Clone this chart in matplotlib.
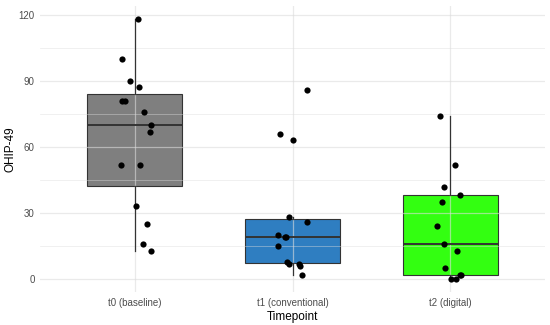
import numpy as np
import matplotlib
matplotlib.use("Agg")
import matplotlib.pyplot as plt

plt.rcParams['font.family'] = ['Liberation Sans', 'DejaVu Sans']

categories = ['t0 (baseline)', 't1 (conventional)', 't2 (digital)']
colors = ['#7f7f7f', '#2f7ec1', '#33ff11']

# OHIP-49 scores per timepoint, with the horizontal jitter seen in the picture
t0_vals = [118, 100, 90, 87, 81, 81, 76, 70, 67, 52, 52, 33, 25, 16, 13]
t0_jit = [0.02, -0.08, -0.03, 0.025, -0.08, -0.06, 0.06, 0.10, 0.095, -0.09, 0.03, 0.01, 0.08, 0.05, 0.10]
t1_vals = [86, 66, 63, 28, 26, 20, 19, 19, 15, 8, 7, 7, 6, 2]
t1_jit = [0.09, -0.08, 0.005, -0.02, 0.09, -0.09, -0.05, -0.04, -0.095, -0.035, -0.02, 0.04, 0.05, 0.06]
t2_vals = [74, 52, 42, 38, 35, 24, 16, 13, 5, 2, 2, 0, 0]
t2_jit = [-0.065, 0.03, -0.04, 0.06, -0.055, -0.085, -0.04, 0.045, -0.035, 0.06, 0.07, 0.005, 0.035]

data = [t0_vals, t1_vals, t2_vals]
jitter = [t0_jit, t1_jit, t2_jit]

fig = plt.figure(figsize=(5.5, 3.25), dpi=100)
ax = fig.add_axes([0.073, 0.101, 0.918, 0.880])

pos = np.arange(1, 4)
bp = ax.boxplot(data, positions=pos, widths=0.6, whis=1.5, showfliers=False,
                patch_artist=True, zorder=1,
                medianprops=dict(color='#333333', linewidth=1.4),
                whiskerprops=dict(color='#333333', linewidth=0.9),
                capprops=dict(linewidth=0),
                boxprops=dict(edgecolor='#333333', linewidth=0.8))
for patch, c in zip(bp['boxes'], colors):
    patch.set_facecolor(c)
# whiskers and medians sit above the grid, the box fill below it
for ln in bp['whiskers'] + bp['medians']:
    ln.set_zorder(2)

for i, (vals, jit) in enumerate(zip(data, jitter)):
    ax.scatter(pos[i] + np.array(jit), vals, s=20, color='black', zorder=3, linewidths=0)

ax.set_xlim(0.4, 3.6)
ax.set_ylim(-5.9, 123.9)
ax.set_yticks([0, 30, 60, 90, 120])
ax.set_yticks([15, 45, 75, 105], minor=True)
ax.set_xticks(pos)
ax.set_xticklabels(categories)

ax.set_axisbelow('line')
ax.grid(True, which='major', color='#dcdcdc', alpha=0.6, linewidth=0.9)
ax.grid(True, which='minor', axis='y', color='#dcdcdc', alpha=0.6, linewidth=0.5)
for sp in ax.spines.values():
    sp.set_visible(False)
ax.tick_params(which='both', length=0, labelsize=7, labelcolor='#4d4d4d', pad=4)

ax.set_xlabel('Timepoint', fontsize=8.5, color='black', labelpad=2)
ax.set_ylabel('OHIP-49', fontsize=8.5, color='black')
ax.yaxis.set_label_coords(-0.046, 0.5)

fig.savefig('out.png', dpi=100)
